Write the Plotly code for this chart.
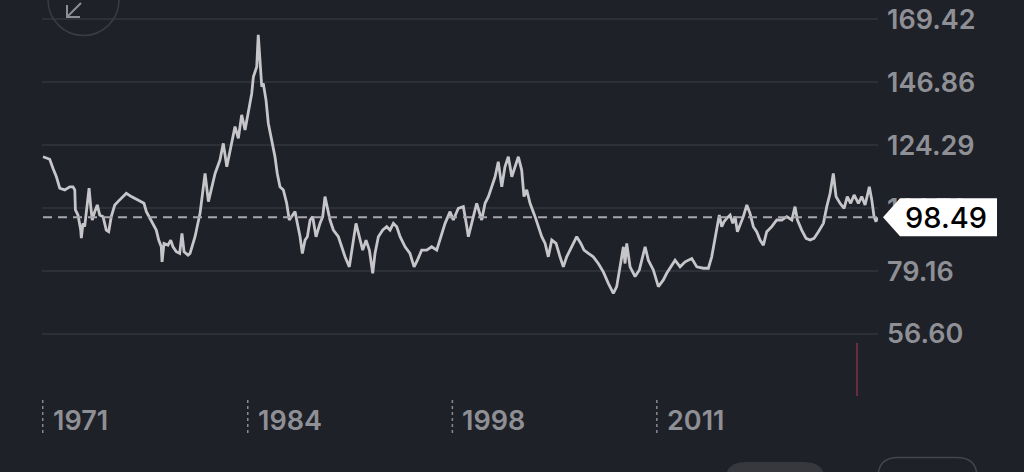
import plotly.graph_objects as go

# ---- data ----
years = [1971.00, 1971.44, 1971.66, 1971.88, 1972.10, 1972.43, 1972.76, 1972.97, 1973.09, 1973.13,
         1973.30, 1973.48, 1973.52, 1973.63, 1973.74, 1973.91, 1974.03, 1974.14, 1974.24, 1974.40,
         1974.57, 1974.73, 1974.95, 1975.16, 1975.32, 1975.49, 1975.72, 1975.93, 1976.26, 1976.48,
         1976.81, 1977.25, 1977.64, 1977.80, 1978.02, 1978.24, 1978.45, 1978.61, 1978.78, 1978.83,
         1978.96, 1979.22, 1979.40, 1979.55, 1979.77, 1979.99, 1980.14, 1980.28, 1980.54,
         1980.67, 1981.00, 1981.33, 1981.66, 1981.88, 1982.10, 1982.32, 1982.64, 1982.86, 1983.09,
         1983.30, 1983.63, 1983.85, 1984.07, 1984.29, 1984.51, 1984.73, 1984.84, 1985.06, 1985.16,
         1985.28, 1985.39, 1985.49, 1985.67, 1985.82, 1986.05, 1986.26, 1986.41, 1986.59, 1986.81,
         1987.03, 1987.20, 1987.36, 1987.58, 1987.73, 1987.91, 1988.06, 1988.24, 1988.39, 1988.57,
         1988.74, 1988.96, 1989.22, 1989.40, 1989.55, 1989.70, 1989.88, 1990.10, 1990.43, 1990.65,
         1990.87, 1991.15, 1991.38, 1991.59, 1991.81, 1992.03, 1992.25, 1992.47, 1992.69, 1992.84,
         1993.06, 1993.35, 1993.61, 1993.83, 1994.05, 1994.27, 1994.49, 1994.82, 1995.14, 1995.41,
         1995.63, 1995.91, 1996.24, 1996.57, 1996.90, 1997.16, 1997.45, 1997.78,
         1997.99, 1998.32, 1998.65, 1998.88, 1998.98, 1999.20, 1999.53, 1999.86, 2000.08, 2000.30,
         2000.52, 2000.74, 2000.95, 2001.18, 2001.39, 2001.61, 2001.84, 2002.05, 2002.27, 2002.49,
         2002.64, 2002.82, 2003.04, 2003.37, 2003.59, 2003.81, 2004.03, 2004.24, 2004.47, 2004.75,
         2005.01, 2005.23, 2005.45, 2005.78, 2006.11, 2006.38, 2006.59, 2006.88, 2007.20, 2007.53,
         2007.86, 2008.19, 2008.52, 2008.74, 2008.96, 2009.18, 2009.29, 2009.40, 2009.62, 2009.95,
         2010.23, 2010.61, 2010.82, 2011.15, 2011.48, 2011.81,
         2012.03, 2012.58, 2012.91, 2013.24, 2013.68, 2014.01, 2014.44, 2014.77, 2014.99, 2015.21,
         2015.36, 2015.49, 2015.65, 2015.80, 2015.98, 2016.20, 2016.38, 2016.53, 2016.68, 2016.86,
         2017.07, 2017.30, 2017.51, 2017.73, 2017.95, 2018.17, 2018.39, 2018.61, 2018.94, 2019.27,
         2019.60, 2019.93, 2020.26, 2020.47, 2020.63, 2020.91, 2021.20, 2021.46, 2021.72, 2022.01,
         2022.34, 2022.56, 2022.78, 2022.99, 2023.17, 2023.43, 2023.70, 2023.91, 2024.13, 2024.36,
         2024.64, 2024.86, 2025.08, 2025.36, 2025.52, 2025.67, 2025.80, 2025.88]

values = [120.2, 119.3, 116.0, 113.0, 108.9, 108.3, 109.4, 109.4, 108.3, 101.1,
          99.3, 93.9, 91.0, 96.3, 95.1, 102.3, 108.9, 102.3, 97.5, 100.5,
          102.9, 99.3, 98.7, 93.9, 93.3, 98.7, 102.9, 104.1, 105.9, 107.1,
          105.9, 104.7, 103.5, 100.5, 98.1, 95.7, 93.9, 90.3, 87.9, 82.5,
          89.1, 88.5, 90.3, 87.9, 86.1, 85.5, 92.7, 86.1, 84.9,
          85.5, 91.5, 99.9, 114.2, 104.1, 109.4, 114.2, 119.0, 125.0, 116.6,
          122.6, 131.0, 126.8, 135.2, 129.8, 135.8, 142.9, 148.9, 152.5, 163.9,
          152.5, 145.3, 146.5, 140.5, 132.2, 126.2, 120.2, 114.2, 109.4, 108.3,
          103.5, 97.5, 98.7, 100.5, 96.3, 91.5, 85.5, 90.3, 91.5, 97.5,
          98.7, 91.5, 96.3, 98.7, 105.9, 102.3, 97.5, 93.9, 91.5, 87.9,
          84.3, 80.7, 89.1, 96.3, 91.5, 86.7, 90.3, 86.7, 78.4, 85.5,
          91.5, 93.9, 95.1, 93.9, 96.3, 95.1, 91.5, 87.9, 85.5, 80.7,
          83.1, 86.7, 86.7, 87.9, 86.7, 91.5, 96.3, 100.5,
          97.5, 101.7, 102.3, 95.1, 91.5, 96.3, 103.5, 97.5, 103.5, 105.9,
          109.4, 113.0, 118.4, 109.4, 116.6, 120.2, 113.0, 116.6, 120.2, 115.4,
          105.9, 108.3, 103.5, 98.7, 95.1, 91.5, 89.1, 84.3, 90.3, 89.1,
          84.3, 80.7, 84.3, 87.9, 91.5, 89.1, 86.7, 85.5, 84.3, 81.9,
          78.9, 74.8, 71.2, 73.6, 80.7, 87.9, 81.9, 89.1, 80.7, 77.2,
          79.6, 87.9, 83.1, 79.6, 73.6, 76.0,
          78.4, 83.1, 80.7, 82.5, 83.7, 80.7, 80.2, 80.2, 84.3, 91.5,
          96.3, 99.3, 95.1, 96.9, 98.1, 99.3, 96.3, 98.7, 93.3, 95.7,
          98.7, 102.9, 99.9, 95.1, 93.3, 90.3, 88.5, 93.3, 95.1, 97.5,
          97.5, 98.7, 97.5, 102.3, 97.5, 93.9, 90.9, 90.3, 90.9, 93.3,
          96.3, 102.3, 107.1, 114.2, 105.9, 103.5, 101.7, 105.9, 103.5, 106.5,
          103.5, 105.9, 102.9, 109.4, 104.7, 98.7, 96.9, 98.49]

last_value = 98.49
last_label = "98.49"

x_tick_years = [1970.98, 1984.47, 1997.93, 2011.38]
x_tick_labels = ["1971", "1984", "1998", "2011"]

y_tickvals = [56.60, 79.16, 101.73, 124.29, 146.86, 169.42]
y_ticktext = ["56.60", "79.16", "101.73", "124.29", "146.86", "169.42"]

marker_year = 2024.55

# ---- layout helpers ----
W, H = 1024, 472
X_DOMAIN = [41.5 / W, 878 / W]
Y_DOMAIN = [1 - 398 / H, 1.0]
X_RANGE = [1970.9, 2025.93]
Y_RANGE = [33.66, 176.41]

BG = "#1f2128"
GRID = "#2e3038"
LINE = "#c6c6ca"
LABEL = "#8f9096"
FONT = "Inter, Roboto, 'Noto Sans', sans-serif"


def pxx(x):
    return x / W


def pxy(y):
    return 1 - y / H


def value_to_pixel_y(v):
    frac = (v - Y_RANGE[0]) / (Y_RANGE[1] - Y_RANGE[0])
    paper = Y_DOMAIN[0] + frac * (Y_DOMAIN[1] - Y_DOMAIN[0])
    return (1 - paper) * H


def path_from_pixels(points, close=True):
    s = "M {:.5f},{:.5f}".format(pxx(points[0][0]), pxy(points[0][1]))
    for (a, b) in points[1:]:
        s += " L {:.5f},{:.5f}".format(pxx(a), pxy(b))
    if close:
        s += " Z"
    return s


def rounded_rect_path(x0, y0, x1, y1, r):
    s = "M {:.5f},{:.5f}".format(pxx(x0 + r), pxy(y0))
    s += " L {:.5f},{:.5f}".format(pxx(x1 - r), pxy(y0))
    s += " Q {:.5f},{:.5f} {:.5f},{:.5f}".format(pxx(x1), pxy(y0), pxx(x1), pxy(y0 + r))
    s += " L {:.5f},{:.5f}".format(pxx(x1), pxy(y1 - r))
    s += " Q {:.5f},{:.5f} {:.5f},{:.5f}".format(pxx(x1), pxy(y1), pxx(x1 - r), pxy(y1))
    s += " L {:.5f},{:.5f}".format(pxx(x0 + r), pxy(y1))
    s += " Q {:.5f},{:.5f} {:.5f},{:.5f}".format(pxx(x0), pxy(y1), pxx(x0), pxy(y1 - r))
    s += " L {:.5f},{:.5f}".format(pxx(x0), pxy(y0 + r))
    s += " Q {:.5f},{:.5f} {:.5f},{:.5f} Z".format(pxx(x0), pxy(y0), pxx(x0 + r), pxy(y0))
    return s


fig = go.Figure()
fig.add_trace(go.Scatter(
    x=years, y=values, mode="lines",
    line=dict(color=LINE, width=2.8),
    hoverinfo="skip", showlegend=False,
))

shapes = []
# dashed last-price line
shapes.append(dict(type="line", xref="x", yref="y", x0=years[0], x1=X_RANGE[1],
                   y0=last_value, y1=last_value, layer="above",
                   line=dict(color="#a9a9ad", width=2, dash="9px,6px")))

# price tag
ty = value_to_pixel_y(last_value)
tag = [(883, ty), (900, ty - 19), (997, ty - 19), (997, ty + 19), (900, ty + 19)]
shapes.append(dict(type="path", xref="paper", yref="paper", path=path_from_pixels(tag),
                   fillcolor="#ffffff", line=dict(width=0), layer="above"))

# dotted x ticks
for yr in x_tick_years:
    shapes.append(dict(type="line", xref="x", yref="paper", x0=yr, x1=yr,
                       y0=pxy(433), y1=pxy(399),
                       line=dict(color="#8a8b90", width=1.5, dash="3px,3px")))

# red marker line
shapes.append(dict(type="line", xref="x", yref="paper", x0=marker_year, x1=marker_year,
                   y0=pxy(396), y1=pxy(343), line=dict(color="#7a3242", width=1.6)))

# circle button and arrow icon (top-left)
shapes.append(dict(type="circle", xref="paper", yref="paper",
                   x0=pxx(48), x1=pxx(119), y0=pxy(35.5), y1=pxy(-35.5),
                   line=dict(color="#3a3c44", width=1.5)))
shapes.append(dict(type="path", xref="paper", yref="paper",
                   path=path_from_pixels([(81, 3), (67, 17)], close=False),
                   line=dict(color="#8e8f95", width=2)))
shapes.append(dict(type="path", xref="paper", yref="paper",
                   path=path_from_pixels([(67, 5), (67, 17), (80, 17)], close=False),
                   line=dict(color="#8e8f95", width=2)))

# bottom buttons (partially visible)
shapes.append(dict(type="path", xref="paper", yref="paper",
                   path=rounded_rect_path(725, 462, 825, 500, 20),
                   fillcolor="#37383e", line=dict(width=0)))
shapes.append(dict(type="path", xref="paper", yref="paper",
                   path=rounded_rect_path(878, 457.5, 977, 500, 20),
                   fillcolor="rgba(0,0,0,0)", line=dict(color="#44464d", width=1.5)))

annotations = []
for yr, lab in zip(x_tick_years, x_tick_labels):
    annotations.append(dict(xref="x", yref="paper", x=yr, y=pxy(420), text=lab,
                            showarrow=False, xanchor="left", yanchor="middle", xshift=8,
                            font=dict(family=FONT, size=27, color=LABEL, weight=600)))
annotations.append(dict(xref="paper", yref="paper", x=pxx(946), y=pxy(ty), text=last_label,
                        showarrow=False, xanchor="center", yanchor="middle",
                        font=dict(family=FONT, size=29, color="#000000", weight=500)))

fig.update_layout(
    width=W, height=H,
    margin=dict(l=0, r=0, t=0, b=0),
    paper_bgcolor=BG, plot_bgcolor=BG,
    showlegend=False,
    shapes=shapes, annotations=annotations,
    xaxis=dict(domain=X_DOMAIN, range=X_RANGE, visible=False, showgrid=False, zeroline=False),
    yaxis=dict(domain=Y_DOMAIN, range=Y_RANGE, side="right",
               tickvals=y_tickvals, ticktext=y_ticktext,
               showgrid=True, gridcolor=GRID, gridwidth=1.5,
               zeroline=False, showline=False, ticks="",
               ticklabelstandoff=8,
               tickfont=dict(family=FONT, size=27, color=LABEL, weight=600)),
)

fig.write_html("out.html", config={"displayModeBar": False},
               post_script="document.body.style.margin='0';document.body.style.background='#1f2128';")
